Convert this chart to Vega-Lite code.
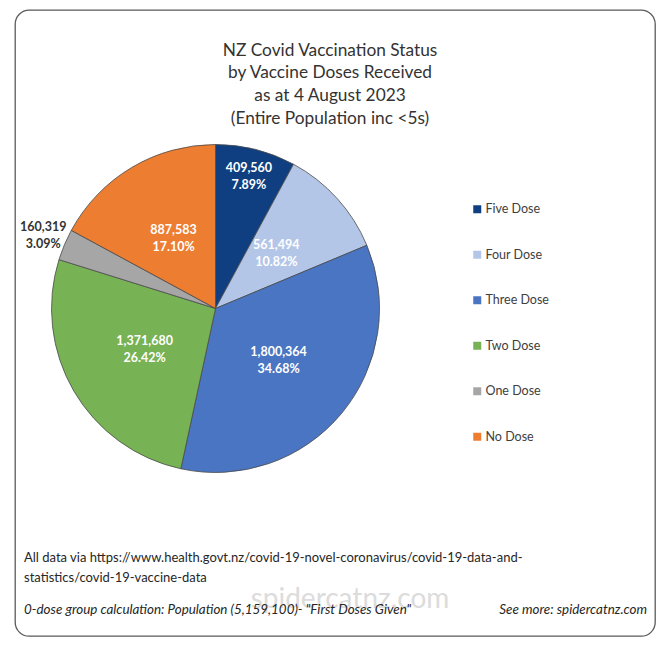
{
  "$schema": "https://vega.github.io/schema/vega-lite/v6.json",
  "autosize": "none",
  "width": 640,
  "height": 626,
  "padding": {"left": 15, "top": 10, "right": 17, "bottom": 10},
  "background": "white",
  "config": {
    "view": {"stroke": "#5a5a5a", "strokeWidth": 1.3, "cornerRadius": 14, "fill": "white"},
    "font": "Lato"
  },
  "title": {
    "text": ["NZ Covid Vaccination Status", "by Vaccine Doses Received", "as at 4 August 2023", "(Entire Population inc <5s)"],
    "anchor": "middle",
    "offset": -117,
    "dx": -5,
    "font": "Lato",
    "fontSize": 17.3,
    "fontWeight": "normal",
    "color": "#333333",
    "lineHeight": 22.7
  },
  "layer": [
    {
      "data": {"name": "doses", "values": [
        {"dose": "Five Dose", "count": 409560, "share": 0.0789, "rank": 1},
        {"dose": "Four Dose", "count": 561494, "share": 0.1082, "rank": 2},
        {"dose": "Three Dose", "count": 1800364, "share": 0.3468, "rank": 3},
        {"dose": "Two Dose", "count": 1371680, "share": 0.2642, "rank": 4},
        {"dose": "One Dose", "count": 160319, "share": 0.0309, "rank": 5},
        {"dose": "No Dose", "count": 887583, "share": 0.1710, "rank": 6}
      ]},
      "encoding": {
        "x": {"datum": 0.3133, "type": "quantitative", "scale": {"domain": [0, 1]}, "axis": null},
        "y": {"datum": 0.4768, "type": "quantitative", "scale": {"domain": [0, 1], "reverse": true}, "axis": null},
        "theta": {"field": "count", "type": "quantitative", "stack": true},
        "order": {"field": "rank", "type": "quantitative"},
        "detail": {"field": "dose", "type": "nominal"}
      },
      "layer": [
        {
          "mark": {"type": "arc", "radius": 164, "stroke": "#4a4a4a", "strokeWidth": 0.8},
          "encoding": {
            "color": {
              "field": "dose",
              "type": "nominal",
              "scale": {
                "domain": ["Five Dose", "Four Dose", "Three Dose", "Two Dose", "One Dose", "No Dose"],
                "range": ["#0f3f80", "#b3c6e8", "#4a75c2", "#77b254", "#a6a6a6", "#ed7d31"]
              },
              "legend": {
                "orient": "none",
                "legendX": 456,
                "legendY": 193,
                "title": null,
                "symbolType": "square",
                "symbolSize": 64,
                "symbolStrokeWidth": 0,
                "labelFont": "Lato",
                "labelFontSize": 12.5,
                "labelColor": "#404040",
                "labelOffset": 2,
                "rowPadding": 32.5
              }
            }
          }
        },
        {
          "mark": {"type": "text", "radius": 82, "dy": -8.5, "color": "white", "fontWeight": "bold", "fontSize": 12.5, "baseline": "middle"},
          "encoding": {
            "text": {"condition": {"test": "datum.dose !== 'Five Dose' && datum.dose !== 'One Dose'", "field": "count", "format": ","}, "value": ""}
          }
        },
        {
          "mark": {"type": "text", "radius": 82, "dy": 8.5, "color": "white", "fontWeight": "bold", "fontSize": 12.5, "baseline": "middle"},
          "encoding": {
            "text": {"condition": {"test": "datum.dose !== 'Five Dose' && datum.dose !== 'One Dose'", "field": "share", "format": ".2%"}, "value": ""}
          }
        },
        {
          "mark": {"type": "text", "radius": 136, "dy": -8.5, "color": "white", "fontWeight": "bold", "fontSize": 12.5, "baseline": "middle"},
          "encoding": {
            "text": {"condition": {"test": "datum.dose === 'Five Dose'", "field": "count", "format": ","}, "value": ""}
          }
        },
        {
          "mark": {"type": "text", "radius": 136, "dy": 8.5, "color": "white", "fontWeight": "bold", "fontSize": 12.5, "baseline": "middle"},
          "encoding": {
            "text": {"condition": {"test": "datum.dose === 'Five Dose'", "field": "share", "format": ".2%"}, "value": ""}
          }
        },
        {
          "mark": {"type": "text", "radius": 187, "dy": -8.5, "color": "#333333", "fontWeight": "bold", "fontSize": 12.5, "baseline": "middle"},
          "encoding": {
            "text": {"condition": {"test": "datum.dose === 'One Dose'", "field": "count", "format": ","}, "value": ""}
          }
        },
        {
          "mark": {"type": "text", "radius": 187, "dy": 8.5, "color": "#333333", "fontWeight": "bold", "fontSize": 12.5, "baseline": "middle"},
          "encoding": {
            "text": {"condition": {"test": "datum.dose === 'One Dose'", "field": "share", "format": ".2%"}, "value": ""}
          }
        }
      ]
    },
    {
      "data": {"values": [{"note": "spidercatnz.com"}]},
      "mark": {"type": "text", "fontSize": 28, "color": "#d4d4d4", "opacity": 0.8, "baseline": "middle", "align": "center"},
      "encoding": {
        "x": {"datum": 0.5234, "type": "quantitative"},
        "y": {"datum": 0.9425, "type": "quantitative"},
        "text": {"field": "note"}
      }
    },
    {
      "data": {"values": [{"note": "All data via https://www.health.govt.nz/covid-19-novel-coronavirus/covid-19-data-and-\nstatistics/covid-19-vaccine-data"}]},
      "mark": {"type": "text", "fontSize": 13, "color": "#262626", "baseline": "top", "align": "left", "lineBreak": "\n", "lineHeight": 20},
      "encoding": {
        "x": {"datum": 0.0141, "type": "quantitative"},
        "y": {"datum": 0.8658, "type": "quantitative"},
        "text": {"field": "note"}
      }
    },
    {
      "data": {"values": [{"note": "0-dose group calculation: Population (5,159,100)- \"First Doses Given\""}]},
      "mark": {"type": "text", "fontSize": 13.4, "fontStyle": "italic", "color": "#262626", "baseline": "middle", "align": "left"},
      "encoding": {
        "x": {"datum": 0.0141, "type": "quantitative"},
        "y": {"datum": 0.9585, "type": "quantitative"},
        "text": {"field": "note"}
      }
    },
    {
      "data": {"values": [{"note": "See more: spidercatnz.com"}]},
      "mark": {"type": "text", "fontSize": 13.4, "fontStyle": "italic", "color": "#262626", "baseline": "middle", "align": "right"},
      "encoding": {
        "x": {"datum": 0.9875, "type": "quantitative"},
        "y": {"datum": 0.9585, "type": "quantitative"},
        "text": {"field": "note"}
      }
    }
  ]
}
